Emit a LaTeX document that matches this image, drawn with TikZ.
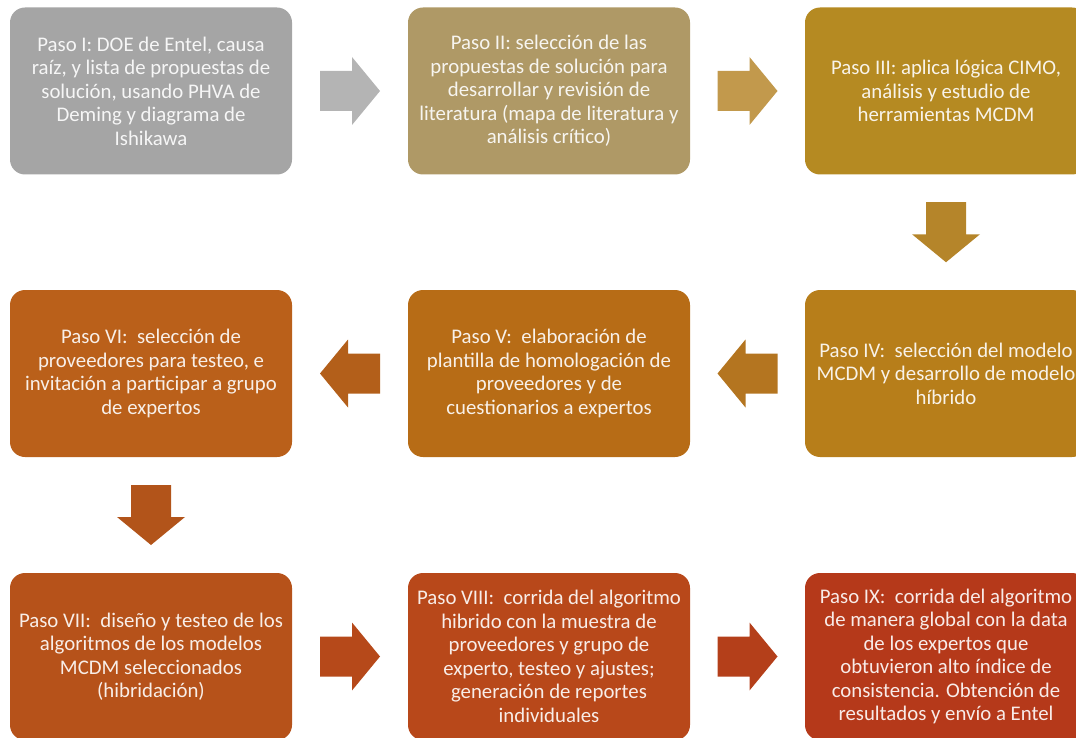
\documentclass[tikz,border=0pt]{standalone}
\usepackage{fontspec}
\setmainfont{Carlito}
\usetikzlibrary{calc}

% fill colours of the steps and of the block arrows between them
\definecolor{cI}{HTML}{A5A5A5}   \definecolor{aI}{HTML}{B4B4B4}
\definecolor{cII}{HTML}{AF9966}  \definecolor{aII}{HTML}{C2994C}
\definecolor{cIII}{HTML}{B58A22} \definecolor{aIII}{HTML}{B5852A}
\definecolor{cIV}{HTML}{B77E1A}  \definecolor{aIV}{HTML}{B47520}
\definecolor{cV}{HTML}{B76C16}   \definecolor{aV}{HTML}{B35F1A}
\definecolor{cVI}{HTML}{BA601A}  \definecolor{aVI}{HTML}{B2541A}
\definecolor{cVII}{HTML}{B6521A} \definecolor{aVII}{HTML}{B6491A}
\definecolor{cVIII}{HTML}{B8481A}\definecolor{aVIII}{HTML}{B43F1A}
\definecolor{cIX}{HTML}{B5391A}

\tikzset{
  stepbox/.style={fill=#1, text=#1!10!white, rounded corners=15pt,
    minimum width=282pt, minimum height=167pt, inner sep=0pt,
    align=center, font=\fontsize{20.8}{23.5}\selectfont},
  blockarrow/.pic={
    \fill (-30,-20) -- (2,-20) -- (2,-34) -- (30,0) -- (2,34) -- (2,20)
      -- (-30,20) -- cycle;}
}

\begin{document}
\begin{tikzpicture}[x=1pt,y=-1pt]
  \useasboundingbox (0,0) rectangle (1076,738);
  \clip (0,0) rectangle (1076,738);

  % row 1
  \node[stepbox=cI] (p1) at (151,91)
    {Paso I: DOE de Entel, causa\\raíz, y lista de propuestas de\\solución, usando PHVA de\\Deming y diagrama de\\Ishikawa};
  \node[stepbox=cII] (p2) at (549,91)
    {Paso II: selección de las\\propuestas de solución para\\desarrollar y revisión de\\literatura (mapa de literatura y\\análisis crítico)};
  \node[stepbox=cIII] (p3) at (946,91)
    {Paso III: aplica lógica CIMO,\\análisis y estudio de\\herramientas MCDM};

  % row 2
  \node[stepbox=cIV] (p4) at (946,373.5)
    {Paso IV:\ \ selección del modelo\\MCDM y desarrollo de modelo\\híbrido};
  \node[stepbox=cV] (p5) at (549,373.5)
    {Paso V:\ \ elaboración de\\plantilla de homologación de\\proveedores y de\\cuestionarios a expertos};
  \node[stepbox=cVI] (p6) at (151,373.5)
    {Paso VI:\ \ selección de\\proveedores para testeo, e\\invitación a participar a grupo\\de expertos};

  % row 3
  \node[stepbox=cVII] (p7) at (151,656.5)
    {Paso VII:\ \ diseño y testeo de los\\algoritmos de los modelos\\MCDM seleccionados\\(hibridación)};
  \node[stepbox=cVIII] (p8) at (549,656.5)
    {Paso VIII:\ \ corrida del algoritmo\\hibrido con la muestra de\\proveedores y grupo de\\experto, testeo y ajustes;\\generación de reportes\\individuales};
  \node[stepbox=cIX] (p9) at (946,656.5)
    {Paso IX:\ \ corrida del algoritmo\\de manera global con la data\\de los expertos que\\obtuvieron alto índice de\\consistencia. Obtención de\\resultados y envío a Entel};

  % block arrows between consecutive steps
  \pic[fill=aI] at ($(p1.east)!0.5!(p2.west)$) {blockarrow};
  \pic[fill=aII] at ($(p2.east)!0.5!(p3.west)$) {blockarrow};
  \pic[fill=aIII, rotate=-90] at ($(p3.south)!0.5!(p4.north)$) {blockarrow};
  \pic[fill=aIV, rotate=180] at ($(p4.west)!0.5!(p5.east)$) {blockarrow};
  \pic[fill=aV, rotate=180] at ($(p5.west)!0.5!(p6.east)$) {blockarrow};
  \pic[fill=aVI, rotate=-90] at ($(p6.south)!0.5!(p7.north)$) {blockarrow};
  \pic[fill=aVII] at ($(p7.east)!0.5!(p8.west)$) {blockarrow};
  \pic[fill=aVIII] at ($(p8.east)!0.5!(p9.west)$) {blockarrow};
\end{tikzpicture}
\end{document}
